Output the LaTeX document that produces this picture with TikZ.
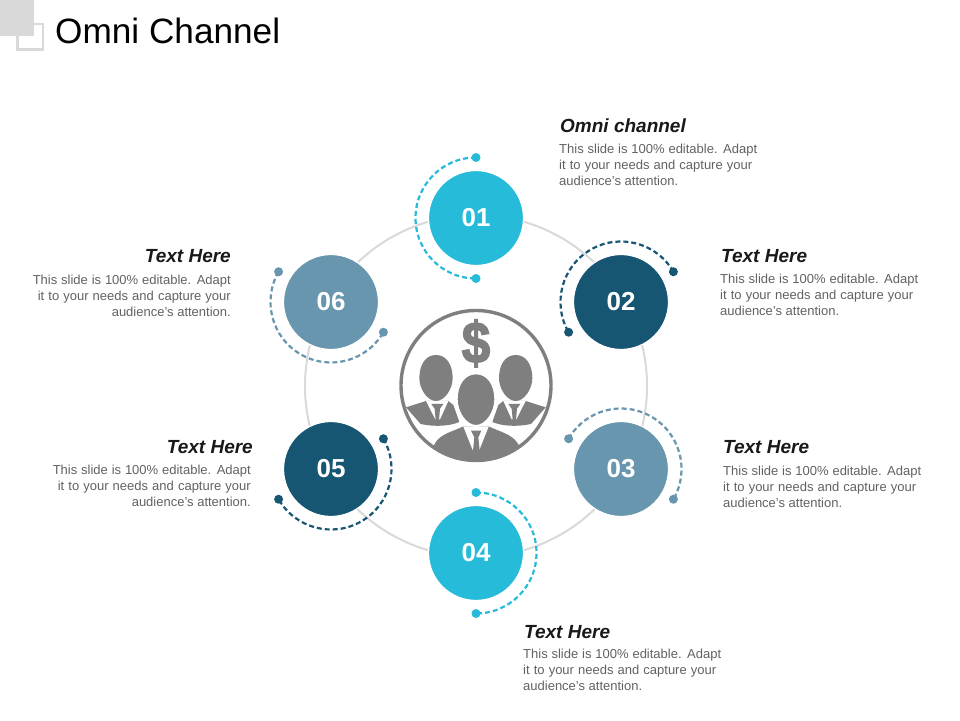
\documentclass[tikz,border=0pt]{standalone}
\usepackage{fontspec}
\setmainfont{Liberation Sans}
\usetikzlibrary{calc}
\definecolor{cA}{HTML}{26BBD9}
\definecolor{cB}{HTML}{165672}
\definecolor{cC}{HTML}{6796AE}
\definecolor{ringc}{HTML}{D9D9D9}
\definecolor{iconc}{HTML}{7F7F7F}
\definecolor{bodyc}{HTML}{626262}
\newcommand{\LA}[1]{\makebox[198pt][s]{#1}}
\newcommand{\LB}[1]{\makebox[193pt][s]{#1}}
\newcommand{\bodyL}{\LA{This slide is 100\% editable. Adapt}\\\LB{it to your needs and capture your}\\audience's attention.}
\tikzset{
  num/.style={circle,minimum size=95pt,inner sep=0pt,draw=white,line width=1.2pt,fill=#1,text=white,font=\fontsize{26}{30}\selectfont\bfseries},
  dot/.style={circle,minimum size=9pt,inner sep=0pt,fill=#1},
  dasharc/.style={draw=#1,line width=2.2pt,dash pattern=on 5pt off 3pt},
  headL/.style={anchor=base west,inner sep=0pt,font=\fontsize{19}{20}\selectfont\bfseries\itshape,text=black!90},
  headR/.style={anchor=base east,inner sep=0pt,font=\fontsize{19}{20}\selectfont\bfseries\itshape,text=black!90},
  txtL/.style={anchor=north west,inner sep=0pt,align=left,text=bodyc,font=\fontsize{13}{16.1}\selectfont},
  txtR/.style={anchor=north east,inner sep=0pt,align=right,text=bodyc,font=\fontsize{13}{16.1}\selectfont},
  sq/.style={draw=ringc,line width=2.6pt},
}
\newcommand{\sidefig}{%
  \fill[iconc] (48,322) -- (108,303) -- (175,303) -- (190,315) -- (208,366) .. controls (175,380) and (130,380) .. (92,372) -- cycle;
  \fill[white] (108,303) -- (175,303) -- (150,358) -- (136,358) -- cycle;
  \fill[iconc] (124,312) -- (160,312) -- (150,326) -- (147,360) -- (137,360) -- (134,326) -- cycle;
  \fill[iconc] (138,165) .. controls (170,165) and (188,195) .. (188,235) .. controls (188,265) and (165,303) .. (138,303) .. controls (111,303) and (88,265) .. (88,235) .. controls (88,195) and (106,165) .. (138,165) -- cycle;
}
\begin{document}
\begin{tikzpicture}[x=1pt,y=1pt]
\useasboundingbox (0,0) rectangle (960,720);
\fill[white] (0,0) rectangle (960,720);
% corner
\draw[sq] (17.5,670.5) rectangle (43,696);
\fill[ringc] (0,684) rectangle (34,720);
\node[anchor=base west,inner sep=0pt,font=\fontsize{35.2}{40}\selectfont,text=black] (title) at (55,676) {Omni Channel};
% ring
\coordinate (c) at (476,334);
\node[circle,draw=ringc,line width=2pt,minimum size=342pt,inner sep=0pt] (ring) at (c) {};
% nodes
\node[num=cA] (n1) at (476,502) {01};
\node[num=cB] (n2) at (621,418) {02};
\node[num=cC] (n3) at (621,251) {03};
\node[num=cA] (n4) at (476,167) {04};
\node[num=cB] (n5) at (331,251) {05};
\node[num=cC] (n6) at (331,418) {06};
% dashed arcs
\draw[dasharc=cA] ($(n1)+(90:60.5)$) arc[start angle=90,end angle=270,radius=60.5];
\draw[dasharc=cB] ($(n2)+(30:60.5)$) arc[start angle=30,end angle=210,radius=60.5];
\draw[dasharc=cC] ($(n3)+(150:60.5)$) arc[start angle=150,end angle=-30,radius=60.5];
\draw[dasharc=cA] ($(n4)+(90:60.5)$) arc[start angle=90,end angle=-90,radius=60.5];
\draw[dasharc=cB] ($(n5)+(30:60.5)$) arc[start angle=30,end angle=-150,radius=60.5];
\draw[dasharc=cC] ($(n6)+(150:60.5)$) arc[start angle=150,end angle=330,radius=60.5];
% dots
\node[dot=cA] (d1a) at ($(n1)+(90:60.5)$) {};
\node[dot=cA] (d1b) at ($(n1)+(270:60.5)$) {};
\node[dot=cB] (d2a) at ($(n2)+(30:60.5)$) {};
\node[dot=cB] (d2b) at ($(n2)+(210:60.5)$) {};
\node[dot=cC] (d3a) at ($(n3)+(150:60.5)$) {};
\node[dot=cC] (d3b) at ($(n3)+(-30:60.5)$) {};
\node[dot=cA] (d4a) at ($(n4)+(90:60.5)$) {};
\node[dot=cA] (d4b) at ($(n4)+(-90:60.5)$) {};
\node[dot=cB] (d5a) at ($(n5)+(30:60.5)$) {};
\node[dot=cB] (d5b) at ($(n5)+(210:60.5)$) {};
\node[dot=cC] (d6a) at ($(n6)+(150:60.5)$) {};
\node[dot=cC] (d6b) at ($(n6)+(-30:60.5)$) {};
% hub
\node[circle,draw=iconc,fill=white,line width=3.4pt,minimum size=150pt,inner sep=0pt] (hub) at (476,334.5) {};
\begin{scope}[shift={(390,420)},x=0.33333pt,y=-0.33333pt]
  \begin{scope}
    \clip (258,256) circle[radius=224];
    \sidefig
    \begin{scope}[shift={(515,0)},xscale=-1]
      \sidefig
    \end{scope}
    \fill[iconc] (125,450) -- (135,430) .. controls (150,402) and (190,394) .. (218,380) -- (298,380) .. controls (326,394) and (366,402) .. (383,430) -- (395,450) -- (380,520) -- (140,520) -- cycle;
    \fill[white] (220,380) -- (296,380) -- (268,450) -- (248,450) -- cycle;
    \fill[iconc] (243,392) -- (274,392) -- (265,412) -- (269,452) -- (249,452) -- (253,412) -- cycle;
    \fill[iconc,draw=white,line width=2pt] (258,220) .. controls (295,220) and (316,255) .. (316,298) .. controls (316,335) and (290,378) .. (258,378) .. controls (226,378) and (200,335) .. (200,298) .. controls (200,255) and (221,220) .. (258,220) -- cycle;
  \end{scope}
  \node[inner sep=0pt,text=iconc,font=\fontsize{58}{58}\selectfont\bfseries] (dollar) at (258,130) {\special{pdf:code q 2 Tr 1.6 w}\scalebox{0.88}[1]{\$}\special{pdf:code Q}};
\end{scope}
% texts
\node[headL] (h1) at (560,587) {Omni channel};
\node[txtL] (t1) at (559,576) {\bodyL};
\node[headL] (h2) at (721,457) {Text Here};
\node[txtL] (t2) at (720,446) {\bodyL};
\node[headL] (h3) at (723,266) {Text Here};
\node[txtL] (t3) at (723,254) {\bodyL};
\node[headL] (h4) at (524,82) {Text Here};
\node[txtL] (t4) at (523,71) {\bodyL};
\node[headR] (h5) at (253,266) {Text Here};
\node[txtR] (t5) at (251,255) {\bodyL};
\node[headR] (h6) at (231,457) {Text Here};
\node[txtR] (t6) at (231,445) {\bodyL};
\end{tikzpicture}
\end{document}
